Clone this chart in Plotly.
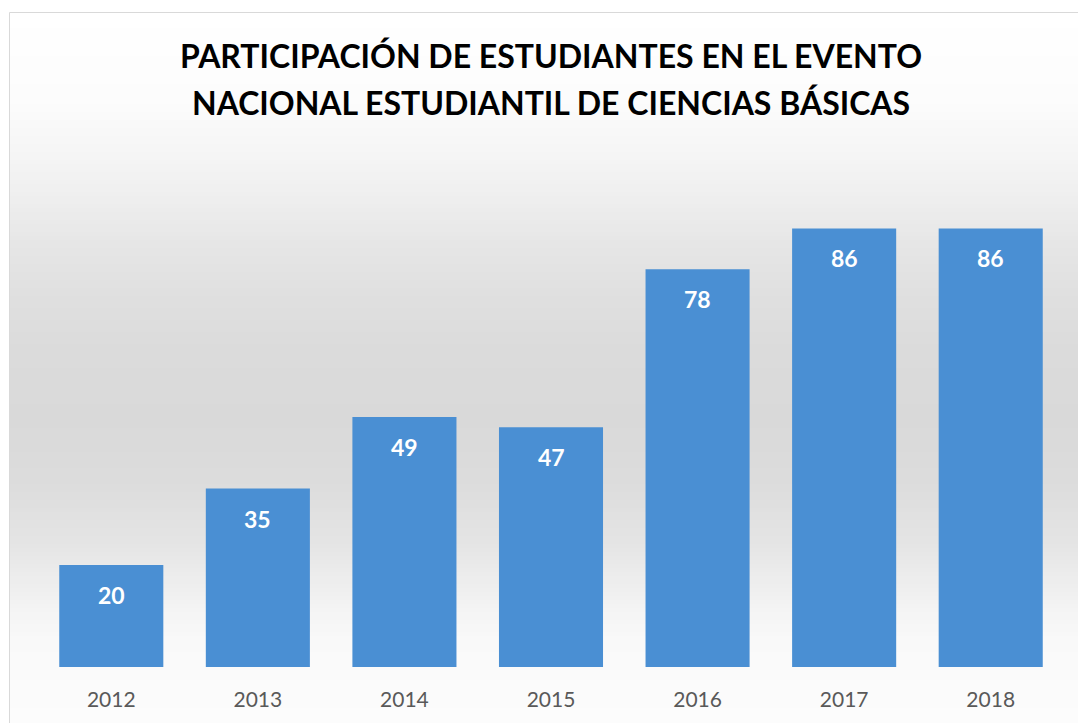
import plotly.graph_objects as go

years = ["2012", "2013", "2014", "2015", "2016", "2017", "2018"]
participants = [20, 35, 49, 47, 78, 86, 86]
title_lines = ["PARTICIPACIÓN DE ESTUDIANTES EN EL EVENTO",
               "NACIONAL ESTUDIANTIL DE CIENCIAS BÁSICAS"]

W, H = 1078, 723
ML, MR, MT, MB = 38, 14, 157, 56
YMAX = 100
plot_h = H - MT - MB
plot_w = W - ML - MR


def py(p):
    """pixel y -> paper y"""
    return (H - MB - p) / plot_h


def px(p):
    return (p - ML) / plot_w


# background gradient stops (pixel y, gray level)
stops = [(12, 255), (100, 252), (150, 246), (200, 238), (250, 229), (300, 223),
         (350, 219), (420, 217), (480, 220), (540, 228), (580, 237), (605, 243),
         (640, 249), (723, 252)]


def gray_at(p):
    for (a, ga), (b, gb) in zip(stops, stops[1:]):
        if a <= p <= b:
            t = (p - a) / (b - a)
            return round(ga + (gb - ga) * t)
    return stops[-1][1]


shapes = []
step = 4
p = 12
while p < H:
    g = gray_at(p + step / 2)
    shapes.append(dict(type="rect", xref="paper", yref="paper", layer="below",
                       x0=px(9), x1=px(W + 5), y0=py(p + step + 0.5), y1=py(p),
                       fillcolor=f"rgb({g},{g},{g})", line=dict(width=0)))
    p += step

# chart-area border
shapes.append(dict(type="rect", xref="paper", yref="paper", layer="above",
                   x0=px(9.5), x1=px(W + 20), y0=py(H + 20), y1=py(12.5),
                   fillcolor="rgba(0,0,0,0)", line=dict(color="#D9D9D9", width=1)))

fig = go.Figure()
fig.add_trace(go.Bar(
    x=years, y=participants,
    marker=dict(color="#4A8FD3", line=dict(width=0)),
    hoverinfo="x+y",
))

annotations = [
    dict(x=i, y=yv, xref="x", yref="y", text=f"<b>{yv}</b>", showarrow=False,
         yanchor="middle", yshift=-30,
         font=dict(family="Lato", size=23, color="white"))
    for i, yv in enumerate(participants)
]
annotations.append(dict(
    x=0.5, xref="paper", xanchor="center", y=py(103), yref="paper", yanchor="middle",
    text=f"<b>{title_lines[1]}</b>", showarrow=False,
    font=dict(family="Lato", size=32, color="black")))

fig.update_layout(
    width=W, height=H,
    margin=dict(l=ML, r=MR, t=MT, b=MB, pad=0),
    paper_bgcolor="white",
    plot_bgcolor="rgba(0,0,0,0)",
    bargap=0.29,
    showlegend=False,
    title=dict(text=f"<b>{title_lines[0]}</b>",
               x=0.5, xref="paper", xanchor="center",
               y=1 - 57 / H, yref="container", yanchor="middle",
               font=dict(family="Lato", size=32, color="black")),
    xaxis=dict(type="category", showgrid=False, zeroline=False, showline=False,
               ticks="", tickfont=dict(family="Lato", size=21, color="#595959"),
               ticklabelstandoff=18),
    yaxis=dict(range=[0, YMAX], visible=False),
    shapes=shapes,
    annotations=annotations,
)

fig.write_html("out.html", config={"displayModeBar": False},
               post_script="document.body.style.margin='0';document.body.style.overflow='hidden';")
